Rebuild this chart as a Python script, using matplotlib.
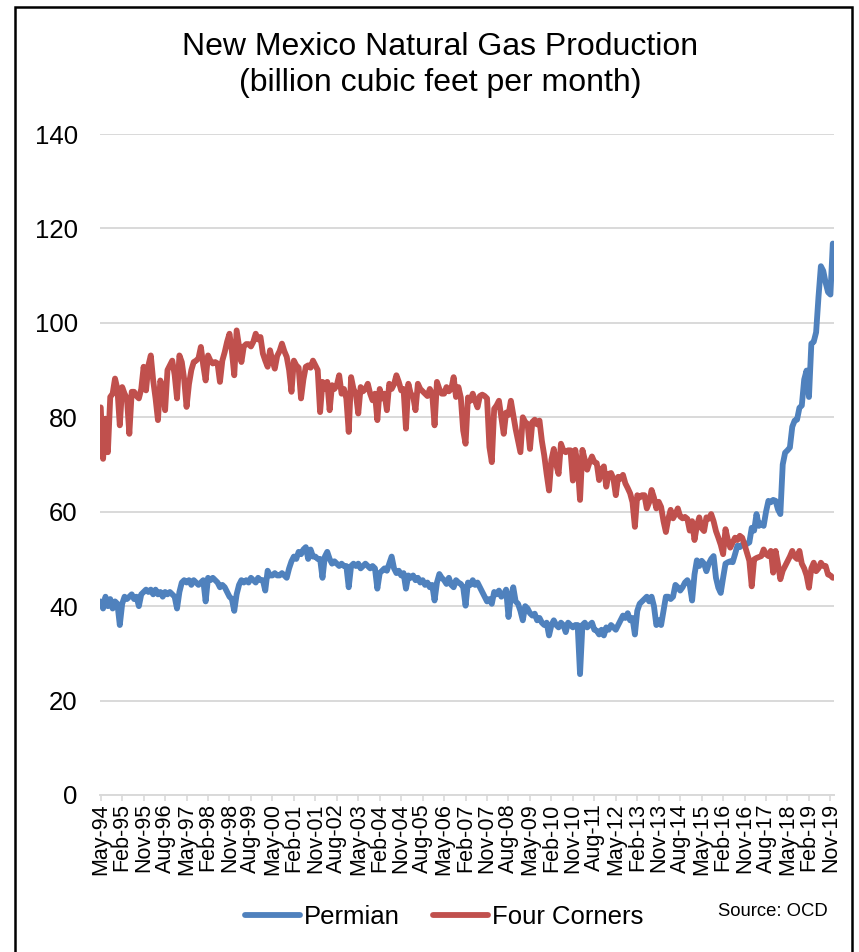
import numpy as np
import pandas as pd
import matplotlib
matplotlib.use("Agg")
import matplotlib.pyplot as plt
from matplotlib.lines import Line2D
from matplotlib.patches import Rectangle

plt.rcParams['font.family'] = ['Liberation Sans', 'DejaVu Sans']

# monthly values, May-94 .. Dec-19 (bcf per month)
permian = [
    41, 39.5, 42, 40, 41.5, 39.5, 41, 40.5,                          # 1994
    36, 40.5, 42, 41.5, 42, 42.5, 41.5, 42, 40, 42.5, 43, 43.5,      # 1995
    43, 43.5, 42.5, 43.5, 42.5, 43, 42, 43, 42.5, 43, 42.5, 42,      # 1996
    39.5, 43, 45, 45.5, 45, 45.5, 44.5, 45.5, 45, 44.5, 45, 45.5,    # 1997
    41, 46, 45.5, 46, 45.5, 45, 44, 44.5, 44, 43, 42, 41.5,          # 1998
    39, 42.5, 44.5, 45.5, 45, 45.5, 45, 46, 45.5, 45, 46, 45.5,      # 1999
    45.5, 43.3, 47.5, 46.5, 46.5, 47, 46.5, 46.5, 47, 46.5, 46, 48,  # 2000
    49.5, 50.5, 50, 51.5, 51, 52, 52.5, 50, 52, 50.5, 50.5, 50,      # 2001
    50, 46, 50.5, 51.5, 50, 49, 49.5, 49, 48.5, 49, 48.5, 48.5,      # 2002
    44, 48.5, 49, 48.5, 49, 48, 48.5, 49, 48.5, 48, 48.5, 48,        # 2003
    43.7, 47, 47.5, 48, 47.5, 49, 50.5, 48, 47, 47.5, 46.5, 47,      # 2004
    43.7, 46.5, 46, 46.5, 45.5, 46, 45, 45.5, 44.5, 45, 44, 44.5,    # 2005
    41.2, 45, 46.8, 46, 45.5, 44.7, 46, 44.5, 44, 45.5, 45, 44.7,    # 2006
    44, 40.1, 45, 44.5, 45.5, 44.5, 45, 44, 43, 42, 41, 41.5,        # 2007
    40.5, 43, 42.5, 43.3, 42, 42.5, 43.5, 37.7, 42, 44, 41, 40.5,    # 2008
    39, 37, 40, 39.5, 38.5, 38, 38.4, 37, 37.5, 36.5, 36, 36.5,      # 2009
    33.8, 36, 37, 36, 35.5, 36.5, 36, 34.5, 36.5, 36, 35.5, 36,      # 2010
    36, 25.6, 36, 36.5, 35.5, 36, 36.5, 35, 34.8, 34, 35, 33.8,      # 2011
    35.5, 35, 36, 35.5, 35, 36, 37, 38, 37.5, 38.5, 37, 37.5,        # 2012
    34, 39, 40.5, 41, 41.5, 42, 41, 42, 40, 36, 37, 36,              # 2013
    39, 42, 42, 41.5, 42, 44.5, 44, 43.3, 44, 45, 45.5, 44.5,        # 2014
    41.2, 46.7, 49.7, 48.5, 49.6, 49, 47.4, 49, 50, 50.6, 46, 43.9,  # 2015
    42.8, 46, 49, 49.3, 49.5, 49.3, 51, 52.8, 52.5, 53, 52.8, 53.2,  # 2016
    53.5, 56.6, 56, 59.5, 57, 57.5, 57, 60, 62.3, 62, 62.5, 62.3,    # 2017
    60.5, 59.5, 70, 72.5, 73, 73.6, 78, 79.3, 79.5, 82, 82.5, 88,    # 2018
    89.9, 84.3, 95.6, 96, 98, 105.5, 112, 111, 108.5, 106.5, 106, 116.8,  # 2019
]

four_corners = [
    82.1, 71.2, 79.7, 72.6, 84.3, 85, 88.2, 86,                          # 1994
    78.3, 86.4, 85, 84, 76.5, 85.4, 85.4, 84.5, 84, 86, 90.7, 85.7,      # 1995
    91, 93.1, 87.8, 84, 79.4, 87.8, 86, 81.5, 90, 91, 92, 89,            # 1996
    84, 93.1, 91.7, 88, 82.2, 87, 90, 91.7, 92, 92.5, 94.9, 91,          # 1997
    87.8, 93.1, 92, 91.4, 91.7, 91.4, 87.5, 92, 93.8, 96, 97.7, 94,      # 1998
    88.9, 98.4, 95, 91.7, 95, 95.5, 95.5, 95, 96, 97.7, 96.5, 97,        # 1999
    93.5, 92, 90.7, 94.2, 92, 90.3, 93, 94, 95.6, 94, 92.8, 90,          # 2000
    85.4, 92, 91, 90.5, 84, 88, 90.7, 91, 90.5, 92, 91, 90,              # 2001
    81.1, 87.5, 86, 87.5, 81.5, 86.8, 86, 86.8, 88.9, 85, 86, 84,        # 2002
    76.9, 88.5, 86, 85, 80.8, 86.4, 85.5, 86, 87.1, 85, 83.6, 85,        # 2003
    79.4, 86, 84, 85, 81.5, 87.1, 86, 87, 88.9, 87.5, 85.7, 86,          # 2004
    77.6, 87.1, 85, 84.5, 81.5, 87.1, 86, 85.5, 85, 84.5, 86, 85,        # 2005
    78.3, 87.5, 86, 85, 85, 86.4, 85.5, 86, 88.5, 84.3, 86.4, 84.2,      # 2006
    77.2, 74.4, 84.2, 83.5, 85, 83.5, 82.1, 84.5, 84.8, 84.5, 84, 73.7,  # 2007
    70.5, 81.8, 82.5, 83.5, 80, 76.5, 81, 80.5, 83.5, 80.5, 77.5, 75,    # 2008
    72.6, 80, 79, 78.6, 73.3, 79, 79.5, 78.5, 79.3, 75, 71.9, 68,        # 2009
    64.5, 71, 73.3, 70, 68, 74.4, 73, 72.6, 73, 73, 66.6, 73.1,          # 2010
    70, 62.5, 73.1, 71, 68.9, 70.5, 71.7, 70.5, 70.3, 66.7, 69, 69.6,    # 2011
    65.3, 68, 68.2, 67, 63.5, 67.4, 67, 67.8, 66, 65, 63.9, 62,          # 2012
    56.8, 63.5, 63, 63.5, 63.5, 60.7, 62, 64.6, 63, 60.7, 62.1, 61,      # 2013
    58, 55.7, 58.5, 60.4, 58.6, 59.5, 60.7, 59, 58.6, 58.9, 58.5, 56,    # 2014
    58, 54, 57, 58.8, 56.5, 55.9, 58.8, 58.5, 59.5, 58, 55.9, 54.5,      # 2015
    53, 51, 56.3, 54, 52.4, 53.5, 54.5, 54, 54.9, 54.5, 53, 51.3,        # 2016
    49.6, 44.2, 49.9, 50.2, 50.4, 50.6, 52, 51, 50.6, 51.7, 47.1, 51.7,  # 2017
    49, 45.7, 47.5, 48.5, 49.5, 50.5, 51.7, 50.5, 50, 51.7, 49, 48,      # 2018
    46.5, 43.9, 48, 49.2, 47.4, 48, 49.2, 48.5, 48.5, 46.7, 46.5, 46,    # 2019
]

months = pd.date_range("1994-05-01", periods=len(permian), freq="MS")
month_labels = [d.strftime("%b-%y") for d in months]
tick_step = 9

blue = "#4F81BD"
red = "#C0504D"
grid = "#D9D9D9"

fig = plt.figure(figsize=(8.59, 9.52), dpi=100)
ax = fig.add_axes([100/859, 1-795/952, 734/859, 661/952])

x = np.arange(len(permian))
ax.plot(x, permian, color=blue, linewidth=4.2, solid_capstyle="round", solid_joinstyle="round")
ax.plot(x, four_corners, color=red, linewidth=4.2, solid_capstyle="round", solid_joinstyle="round")

ax.set_ylim(0, 140)
ax.set_yticks(range(0, 141, 20))
ax.set_xlim(-0.3, 307.5)
ax.set_xticks(x[::tick_step])
ax.set_xticklabels(month_labels[::tick_step], rotation=90, fontsize=15.5)
ax.grid(axis="y", color=grid, linewidth=1.4)
ax.set_axisbelow(True)
for s in ["left", "top", "right"]:
    ax.spines[s].set_visible(False)
ax.spines["bottom"].set_color(grid)
ax.spines["bottom"].set_linewidth(1.4)
ax.tick_params(axis="y", length=0, pad=16, labelsize=18.5)
ax.tick_params(axis="x", length=4, width=1.2, color=grid, pad=2)

fig.text(440/859, 1-47/952, "New Mexico Natural Gas Production", ha="center", va="center", fontsize=23)
fig.text(440/859, 1-83/952, "(billion cubic feet per month)", ha="center", va="center", fontsize=23)

handles = [Line2D([], [], color=blue, linewidth=4.2, solid_capstyle="round"),
           Line2D([], [], color=red, linewidth=4.2, solid_capstyle="round")]
fig.legend(handles, ["Permian", "Four Corners"], loc="center", bbox_to_anchor=(444/859, 1-917/952),
           ncol=2, frameon=False, fontsize=18.5, handlelength=2.15, handletextpad=0.15, columnspacing=1.3)
fig.text(828/859, 1-912/952, "Source: OCD", ha="right", va="center", fontsize=13.3)

fig.patches.append(Rectangle((15/859, -0.05), (852-15)/859, 1.05-7/952, transform=fig.transFigure,
                             fill=False, edgecolor="black", linewidth=1.8))

plt.savefig("out.png", dpi=100)
